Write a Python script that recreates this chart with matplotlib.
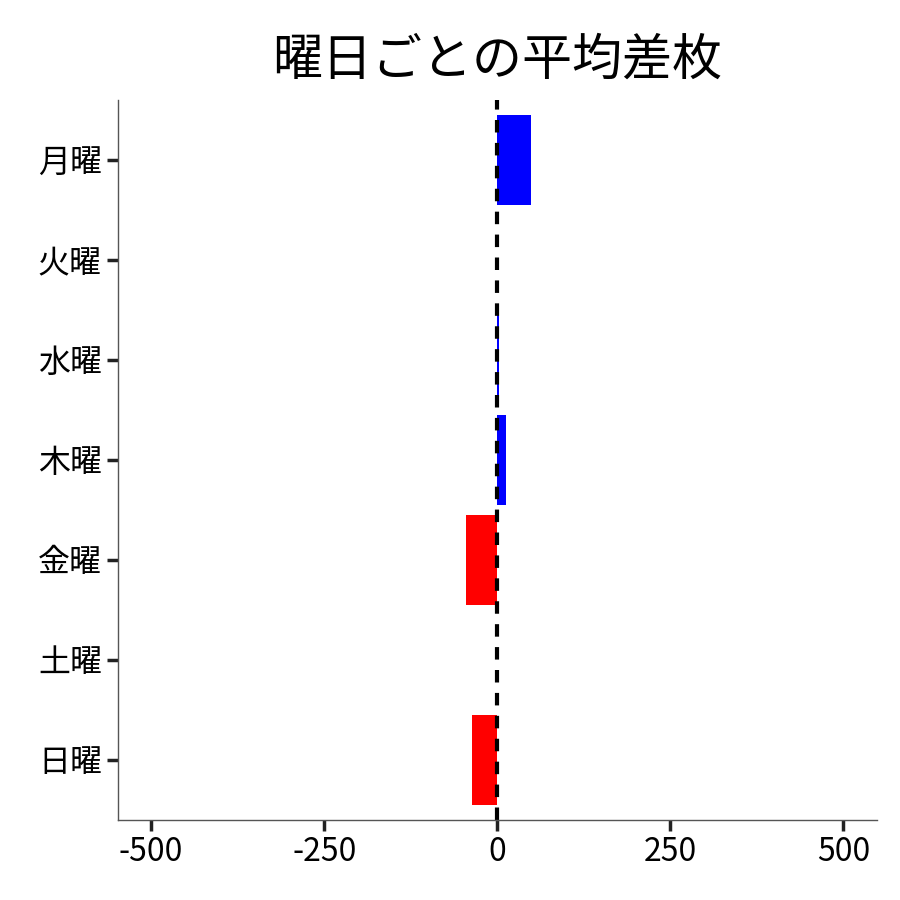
import matplotlib
matplotlib.use("Agg")
import matplotlib.pyplot as plt

plt.rcParams['font.family'] = ['Noto Sans CJK JP', 'DejaVu Sans']

days = ["月曜", "火曜", "水曜", "木曜", "金曜", "土曜", "日曜"]
avg_diff = [49, 0, 3, 12, -45, -1, -36]

colors = ["blue" if v >= 0 else "red" for v in avg_diff]

fig = plt.figure(figsize=(9, 9), dpi=100)
ax = fig.add_axes([0.131, 0.089, 0.843, 0.8])

ypos = list(range(len(days)))
ax.barh(ypos, avg_diff, height=0.9, color=colors)
ax.axvline(0, color="black", linestyle="--", linewidth=3, dashes=(3, 2.5))

ax.set_yticks(ypos)
ax.set_yticklabels(days)
ax.set_ylim(len(days) - 0.4, -0.6)
ax.set_xlim(-548, 548)
ax.set_xticks([-500, -250, 0, 250, 500])
ax.set_xticklabels(["-500", "-250", "0", "250", "500"])
ax.tick_params(axis="both", labelsize=23, length=8, width=2.5, color="#222222")

for s in ["top", "right"]:
    ax.spines[s].set_visible(False)
for s in ["left", "bottom"]:
    ax.spines[s].set_color("#555555")
    ax.spines[s].set_linewidth(1)

ax.set_title("曜日ごとの平均差枚", fontsize=36, pad=18)

fig.savefig("out.png")
